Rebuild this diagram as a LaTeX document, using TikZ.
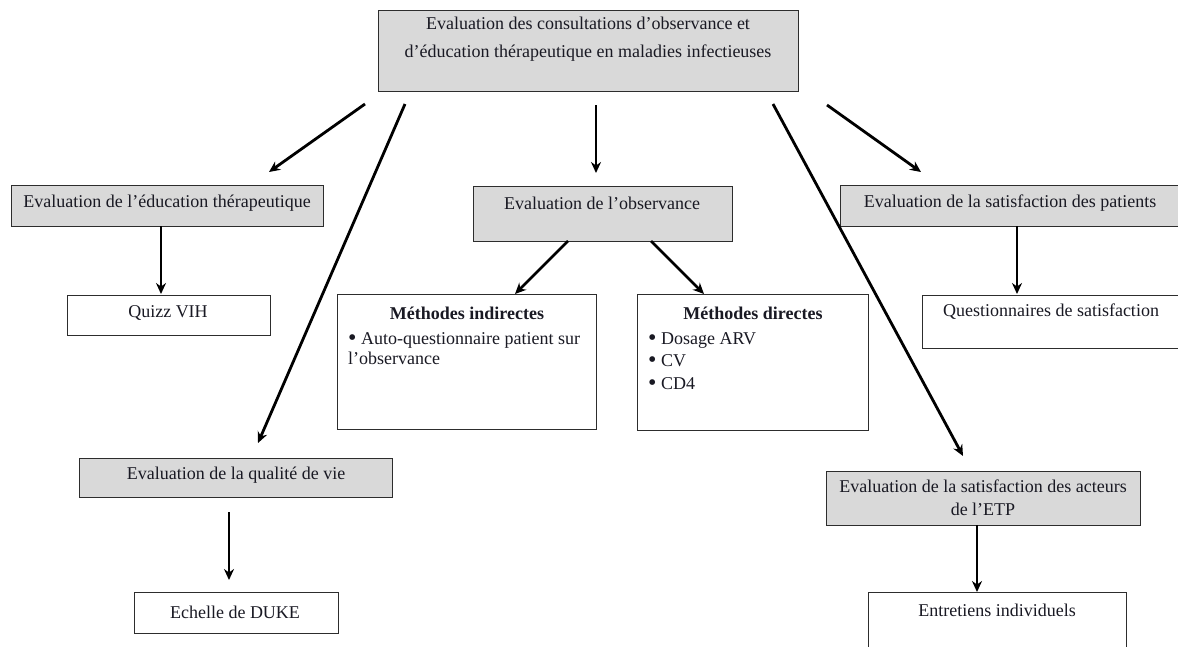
\documentclass[tikz,border=0pt]{standalone}
\usepackage{fontspec}
\setmainfont{Liberation Serif}
\usetikzlibrary{arrows.meta,calc}
\definecolor{boxgray}{RGB}{217,217,217}
\definecolor{edgecol}{RGB}{45,45,45}
\definecolor{txtcol}{RGB}{25,25,35}
\newcommand{\bigbul}{{\fontsize{24}{22}\selectfont\raisebox{-1pt}{•}}}
\begin{document}
\begin{tikzpicture}[x=1pt,y=-1pt,
  font=\fontsize{18}{22}\selectfont,
  gbox/.style={draw=edgecol, line width=1.2pt, fill=boxgray, inner sep=0pt, anchor=north west},
  wbox/.style={draw=edgecol, line width=1.2pt, fill=white, inner sep=0pt, anchor=north west},
  txt/.style={inner sep=0pt, align=center, text=txtcol},
  ltxt/.style={inner sep=0pt, anchor=base west, text=txtcol},
  arr/.style={line width=2.8pt, -{Stealth[length=11pt,width=10pt]}}]
\useasboundingbox (0,0) rectangle (1178,646);
\fill[white] (0,0) rectangle (1178,646);
\clip (0,0) rectangle (1178,646);

% boxes
\node[gbox, minimum width=420pt, minimum height=81pt] (top) at (378,10) {};
\node[gbox, minimum width=312pt, minimum height=41pt] (edu) at (11,185) {};
\node[wbox, minimum width=203pt, minimum height=40pt] (quiz) at (67,295) {};
\node[gbox, minimum width=259pt, minimum height=55pt] (obs) at (473,186) {};
\node[wbox, minimum width=259pt, minimum height=135pt] (ind) at (337,294) {};
\node[wbox, minimum width=231pt, minimum height=136pt] (dir) at (637,294) {};
\node[gbox, minimum width=360pt, minimum height=41pt] (satp) at (840,185) {};
\node[wbox, minimum width=280pt, minimum height=53pt] (quest) at (922,295) {};
\node[gbox, minimum width=313pt, minimum height=39pt] (qual) at (79,458) {};
\node[wbox, minimum width=204pt, minimum height=41pt] (duke) at (134,592) {};
\node[gbox, minimum width=314pt, minimum height=54pt] (act) at (826,471) {};
\node[wbox, minimum width=258pt, minimum height=80pt] (entr) at (868,592) {};

% texts
\node[txt, font=\fontsize{18}{28}\selectfont] (ttop) at (588,39) {Evaluation des consultations d’observance et\\d’éducation thérapeutique en maladies infectieuses};
\node[txt] (tedu) at (167,203) {Evaluation de l’éducation thérapeutique};
\node[txt] (tquiz) at (168,313) {Quizz VIH};
\node[txt] (tobs) at (602,203) {Evaluation de l’observance};
\node[txt, font=\fontsize{18}{22}\bfseries] (tind) at (467,313) {Méthodes indirectes};
\node[ltxt] (ind1) at (348,344) {\bigbul{} Auto-questionnaire patient sur};
\node[ltxt] (ind2) at (348,364) {l’observance};
\node[txt, font=\fontsize{18}{22}\bfseries] (tdir) at (753,313) {Méthodes directes};
\node[ltxt] (dir1) at (648,344) {\bigbul{} Dosage ARV};
\node[ltxt] (dir2) at (648,366) {\bigbul{} CV};
\node[ltxt] (dir3) at (648,389) {\bigbul{} CD4};
\node[txt] (tsatp) at (1010,203) {Evaluation de la satisfaction des patients};
\node[txt] (tquest) at (1051,312) {Questionnaires de satisfaction};
\node[txt] (tqual) at (236,475) {Evaluation de la qualité de vie};
\node[txt] (tduke) at (235,612) {Echelle de DUKE};
\node[txt, font=\fontsize{18}{23}\selectfont] (tact) at (983,498) {Evaluation de la satisfaction des acteurs\\de l’ETP};
\node[txt] (tentr) at (997,610) {Entretiens individuels};

% arrow end points
\coordinate (a1s) at (365,104); \coordinate (a1e) at (269,172);
\coordinate (a2s) at (405,104); \coordinate (a2e) at (258,443);
\coordinate (a3s) at (596,105); \coordinate (a3e) at (596,173);
\coordinate (a4s) at (568,241); \coordinate (a4e) at (515,294);
\coordinate (a5s) at (651,241); \coordinate (a5e) at (704,294);
\coordinate (a6s) at (773,104); \coordinate (a6e) at (963,456);
\coordinate (a7s) at (827,105); \coordinate (a7e) at (921,172);
\coordinate (a8s) at (1017,226); \coordinate (a8e) at (1017,294);
\coordinate (a9s) at (161,226); \coordinate (a9e) at (161,294);
\coordinate (a10s) at (229,512); \coordinate (a10e) at (229,580);
\coordinate (a11s) at (977,525); \coordinate (a11e) at (977,592);

\foreach \i in {1,...,11} \draw[arr] (a\i s) -- (a\i e);
\end{tikzpicture}
\end{document}
